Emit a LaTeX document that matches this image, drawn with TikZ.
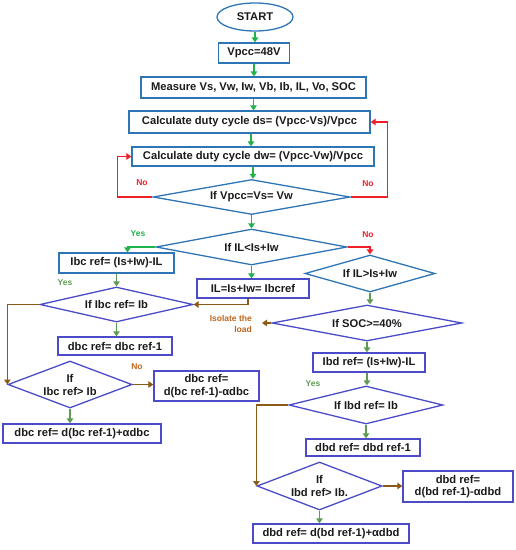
\documentclass[tikz,border=0pt]{standalone}
\usepackage{fontspec}
\setmainfont{Liberation Sans}
\usetikzlibrary{shapes.geometric,arrows.meta}
\definecolor{bblue}{HTML}{2E75B6}
\definecolor{pblue}{HTML}{4B4BC8}
\definecolor{bgreen}{HTML}{1FB34A}
\definecolor{dgreen}{HTML}{5E9C52}
\definecolor{brn}{HTML}{8C5A17}
\definecolor{txt}{HTML}{1A1A1A}
\definecolor{orng}{HTML}{C0651E}
\definecolor{redl}{HTML}{F0202A}
\begin{document}
\begin{tikzpicture}[x=1pt,y=-1pt,
  bx/.style={draw=#1,line width=1.3pt,rectangle,inner sep=0pt,font=\fontsize{11.2}{12.5}\selectfont\bfseries,text=txt,align=center},
  bx/.default=bblue,
  dia/.style={draw=#1,line width=1.3pt,diamond,inner sep=0pt},
  dia/.default=bblue,
  dtxt/.style={inner sep=0pt,font=\fontsize{11.2}{13}\selectfont\bfseries,text=txt,align=center},
  tip/.style={-{Triangle[width=6.5pt,length=5pt]}},
  garr/.style={draw=bgreen,line width=1.3pt,tip},
  darr/.style={draw=dgreen,line width=1.3pt,tip},
  rarr/.style={draw=redl,line width=1.3pt,tip},
  barr/.style={draw=brn,line width=1.3pt,tip},
  lab/.style={inner sep=0pt,font=\fontsize{8.5}{9.5}\selectfont\bfseries},
]
\useasboundingbox (0,0) rectangle (516,550);
% top part
\node[draw=bblue,line width=1.3pt,ellipse,minimum width=76pt,minimum height=28pt,inner sep=0pt,font=\fontsize{11.2}{12}\selectfont\bfseries,text=txt] (start) at (255,17) {START};
\node[bx,minimum width=71pt,minimum height=20pt] (vpcc) at (254,53) {Vpcc=48V};
\node[bx,minimum width=225pt,minimum height=21pt] (meas) at (253.5,87.5) {Measure Vs, Vw, Iw, Vb, Ib, IL, Vo, SOC};
\node[bx,minimum width=241pt,minimum height=22pt] (ds) at (249.5,122) {Calculate duty cycle ds= (Vpcc-Vs)/Vpcc};
\node[bx,minimum width=242pt,minimum height=19pt] (dw) at (253,156.5) {Calculate duty cycle dw= (Vpcc-Vw)/Vpcc};
\node[dia,minimum width=197pt,minimum height=35pt] (d1) at (251.5,197) {};
\node[dtxt] (d1t) at (d1) {If Vpcc=Vs= Vw};
\node[dia,minimum width=191pt,minimum height=36pt] (d2) at (251.5,247) {};
\node[dtxt] (d2t) at (d2) {If IL<Is+Iw};
% left branch
\node[bx,minimum width=115pt,minimum height=20pt] (ibc) at (116.5,263) {Ibc ref= (Is+Iw)-IL};
\node[bx=pblue,minimum width=112pt,minimum height=19pt] (ilbox) at (253,288.5) {IL=Is+Iw= Ibcref};
\node[dia=pblue,minimum width=153pt,minimum height=35pt] (d4) at (116.5,304.5) {};
\node[dtxt] (d4t) at (d4) {If Ibc ref= Ib};
\node[bx=pblue,minimum width=114pt,minimum height=18pt] (dbc1) at (115,346) {dbc ref= dbc ref-1};
\node[dia=pblue,minimum width=124pt,minimum height=47pt] (d5) at (70,384.5) {};
\node[dtxt] (d5t) at (d5) {If\\Ibc ref> Ib};
\node[bx=pblue,minimum width=105pt,minimum height=30pt] (dbcm) at (206.5,386) {dbc ref=\\d(bc ref-1)-αdbc};
\node[bx=pblue,minimum width=158pt,minimum height=19pt] (dbcp) at (82,433.5) {dbc ref= d(bc ref-1)+αdbc};
% right branch
\node[dia,minimum width=130pt,minimum height=37pt] (d3) at (370,273.5) {};
\node[dtxt] (d3t) at (d3) {If IL>Is+Iw};
\node[dia=pblue,minimum width=190pt,minimum height=36pt] (soc) at (367,323) {};
\node[dtxt] (soct) at (soc) {If SOC>=40\%};
\node[bx=pblue,minimum width=112pt,minimum height=19pt] (ibd) at (369,362.5) {Ibd ref= (Is+Iw)-IL};
\node[dia=pblue,minimum width=154pt,minimum height=38pt] (d6) at (366,405) {};
\node[dtxt] (d6t) at (d6) {If Ibd ref= Ib};
\node[bx=pblue,minimum width=114pt,minimum height=17pt] (dbd1) at (363,447.5) {dbd ref= dbd ref-1};
\node[dia=pblue,minimum width=125pt,minimum height=48pt] (d7) at (319.5,486) {};
\node[dtxt] (d7t) at (d7) {If\\Ibd ref> Ib.};
\node[bx=pblue,minimum width=110pt,minimum height=31pt] (dbdm) at (458,486.5) {dbd ref=\\d(bd ref-1)-αdbd};
\node[bx=pblue,minimum width=156pt,minimum height=19pt] (dbdp) at (331,533.5) {dbd ref= d(bd ref-1)+αdbd};
% labels
\node[lab,text=redl] (no1) at (142,183) {No};
\node[lab,text=redl] (no2) at (368,184) {No};
\node[lab,text=bgreen] (yes1) at (138,234) {Yes};
\node[lab,text=redl] (no3) at (368,235) {No};
\node[lab,text=dgreen] (yes2) at (65,283) {Yes};
\node[lab,text=orng] (no4) at (137,367) {No};
\node[lab,text=dgreen] (yes3) at (313,384) {Yes};
\node[lab,text=orng,align=right,anchor=east,font=\fontsize{8.5}{11}\selectfont\bfseries] (iso) at (252,323.5) {Isolate the\\load};
\coordinate (isoend) at (262,323);
% connectors
\draw[garr] (start.south) -- (start.south |- vpcc.north);
\draw[garr] (vpcc.south) -- (vpcc.south |- meas.north);
\draw[garr] (meas.south) -- (meas.south |- ds.north);
\draw[garr] (ds.south) ++(1.5,0) coordinate (dsb) -- (dsb |- dw.north);
\draw[garr] (dw.south) ++(0,0) coordinate (dwb) -- (dwb |- d1.north);
\draw[garr] (d1.south) -- (d2.north);
\draw[rarr] (d1.west) -- ++(-35,0) |- (dw.west);
\draw[rarr] (d1.east) -- ++(37,0) |- (ds.east);
\draw[garr] (d2.west) -| ([xshift=11pt]ibc.north);
\draw[rarr] (d2.east) -| (d3.north);
\draw[garr] (d2.south) -- (d2.south |- ilbox.north);
\draw[darr] (ibc.south) -- (d4.north);
\draw[barr] ([xshift=-5pt]ilbox.south) |- (d4.east);
\draw[darr] (d4.south) -- (d4.south |- dbc1.north);
\draw[barr] (d4.west) -| (d5.west);
\draw[barr] (d5.east) -- (d5.east -| dbcm.west);
\draw[darr] (d5.south) -- (d5.south |- dbcp.north);
\draw[darr] (d3.south) -- (d3.south |- soc.north);
\draw[barr] (soc.west) -- (isoend);
\draw[darr] (soc.south) -- (soc.south |- ibd.north);
\draw[darr] (ibd.south) ++(-2,0) coordinate (ibdb) -- (ibdb |- d6.north);
\draw[darr] (d6.south) -- (d6.south |- dbd1.north);
\draw[barr] (d6.west) -| (d7.west);
\draw[barr] (d7.east) -- (d7.east -| dbdm.west);
\draw[darr] (d7.south) -- (d7.south |- dbdp.north);
\end{tikzpicture}
\end{document}
